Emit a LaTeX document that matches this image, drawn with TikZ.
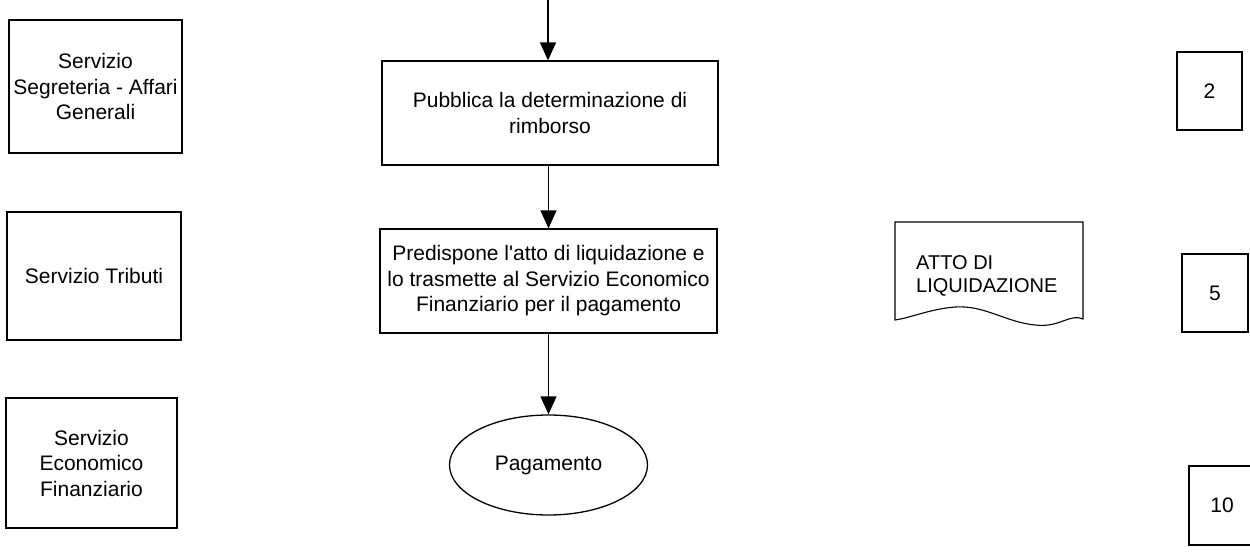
\documentclass[tikz,border=0pt]{standalone}
\usepackage{fontspec}
\newfontfamily\arialf{Liberation Sans}
\usetikzlibrary{arrows.meta,shapes.geometric}
\begin{document}
\begin{tikzpicture}[x=1pt,y=-1pt,
  every node/.style={font=\arialf\fontsize{21}{25.5}\selectfont, text=black},
  box/.style={draw, line width=1.3pt, inner sep=0pt, align=center},
  conn/.style={line width=1.3pt, -{Triangle[length=18pt,width=16pt]}},
]
\useasboundingbox (0,0) rectangle (1250,552);
% left column
\node[box, minimum width=173pt, minimum height=133pt] (segr) at (95.5,86.5) {Servizio\\Segreteria - Affari\\Generali};
\node[box, minimum width=174pt, minimum height=128pt] (trib) at (94,276) {Servizio Tributi};
\node[box, minimum width=171pt, minimum height=130pt] (econ) at (91.5,463) {Servizio\\Economico\\Finanziario};
% main flow
\coordinate (in) at (548,0);
\node[box, minimum width=336pt, minimum height=104pt] (pub) at (550,113) {Pubblica la determinazione di\\rimborso};
\node[box, minimum width=337pt, minimum height=104pt] (pred) at (548.5,281) {Predispone l'atto di liquidazione e\\lo trasmette al Servizio Economico\\Finanziario per il pagamento};
\node[draw, ellipse, line width=1.3pt, minimum width=198pt, minimum height=100pt, inner sep=0pt] (pay) at (548.5,465) {Pagamento};
\draw[conn] (in) -- (in |- pub.north);
\draw[conn] (pred.north |- pub.south) -- (pred.north);
\draw[conn] (pred.south) -- (pay.north);
% document shape
\draw[line width=1.1pt] (895,222) -- (1083,222) -- (1083,319)
  .. controls (1070,313) and (1060,328) .. (1035,325)
  .. controls (1005,322) and (985,305) .. (955,307)
  .. controls (930,309) and (910,318) .. (895,320) -- cycle;
\node[align=left, anchor=west, inner sep=0pt, font=\arialf\fontsize{20}{23}\selectfont] (doct) at (916,276) {ATTO DI\\LIQUIDAZIONE};
% number boxes
\node[box, minimum width=65pt, minimum height=78pt] (n2) at (1209.5,91) {2};
\node[box, minimum width=66pt, minimum height=78pt] (n5) at (1215,293) {5};
\node[box, minimum width=66pt, minimum height=79pt] (n10) at (1222,505.5) {10};
\end{tikzpicture}
\end{document}
